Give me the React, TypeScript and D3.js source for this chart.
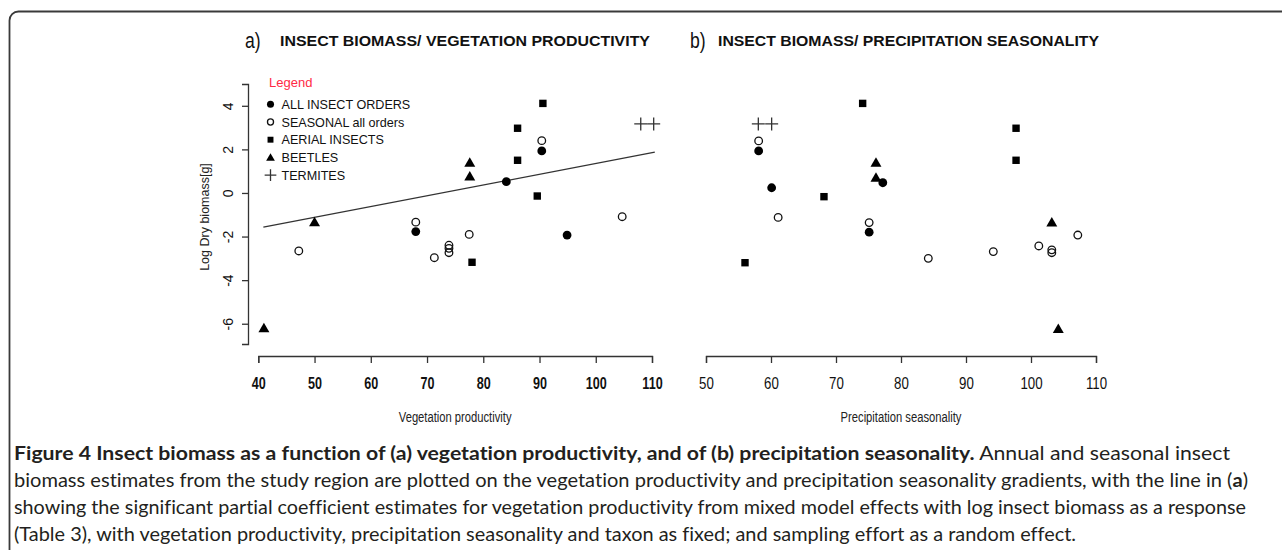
import React, { useEffect, useRef } from 'react'
import * as d3 from 'd3'

// tick values
const vegTicks = [40, 50, 60, 70, 80, 90, 100, 110]
const seasTicks = [50, 60, 70, 80, 90, 100, 110]
const yTicks = [-6, -4, -2, 0, 2, 4]

// panel a) vegetation productivity  [x, log dry biomass]
const allOrdersVeg = [[68, -1.77], [84.1, 0.52], [90.4, 1.93], [94.9, -1.93]]
const seasonalVeg = [[47.2, -2.66], [68, -1.34], [71.3, -2.97], [73.9, -2.4], [73.9, -2.54], [73.9, -2.74], [77.5, -1.9], [90.4, 2.4], [104.7, -1.09]]
const aerialVeg = [[78, -3.18], [86.1, 1.5], [86.1, 2.97], [89.6, -0.14], [90.6, 4.11]]
const beetlesVeg = [[41, -6.21], [50, -1.34], [77.6, 0.75], [77.6, 1.39]]
const termitesVeg = [[108, 3.17], [110.3, 3.17]]
const fitVeg = [[40.9, -1.57], [110.5, 1.87]]

// panel b) precipitation seasonality
const allOrdersSeas = [[58.1, 1.93], [60.1, 0.24], [75.1, -1.8], [77.2, 0.47]]
const seasonalSeas = [[58.1, 2.39], [61.1, -1.12], [75.1, -1.36], [84.2, -3.0], [94.2, -2.69], [101.2, -2.43], [103.2, -2.61], [103.2, -2.74], [107.2, -1.93]]
const aerialSeas = [[56, -3.2], [68.15, -0.17], [74.1, 4.11], [97.7, 2.97], [97.7, 1.5]]
const beetlesSeas = [[103.2, -1.36], [104.2, -6.24], [76.15, 1.39], [76.15, 0.7]]
const termitesSeas = [[58.05, 3.17], [60.1, 3.17]]

const legendLabels = ['ALL INSECT ORDERS', 'SEASONAL all orders', 'AERIAL INSECTS', 'BEETLES', 'TERMITES']
const legendKinds = ['filled', 'open', 'square', 'triangle', 'plus']

const arial = '"Liberation Sans", Arial, sans-serif'

// no narrow font installed, so squeeze the text horizontally
function condense(sel: any, k: number) {
  sel.each(function (this: SVGTextElement) {
    const len = this.getComputedTextLength()
    d3.select(this).attr('textLength', len * k).attr('lengthAdjust', 'spacingAndGlyphs')
  })
}

function drawMark(g: any, kind: string, x: number, y: number, s = 1) {
  if (kind === 'filled') {
    g.append('circle').attr('cx', x).attr('cy', y).attr('r', 4.4 * s).attr('fill', '#000')
  } else if (kind === 'open') {
    g.append('circle').attr('cx', x).attr('cy', y).attr('r', 3.8 * s)
      .attr('fill', 'none').attr('stroke', '#111').attr('stroke-width', 1.3)
  } else if (kind === 'square') {
    const h = 3.7 * s
    g.append('rect').attr('x', x - h).attr('y', y - h).attr('width', 2 * h).attr('height', 2 * h).attr('fill', '#000')
  } else if (kind === 'triangle') {
    g.append('path')
      .attr('transform', 'translate(' + x + ',' + (y + 0.8) + ')')
      .attr('d', d3.symbol(d3.symbolTriangle, 52 * s * s)())
      .attr('fill', '#000')
  } else {
    const h = 6.5 * s
    g.append('path')
      .attr('d', 'M' + (x - h) + ',' + y + 'H' + (x + h) + 'M' + x + ',' + (y - h) + 'V' + (y + h))
      .attr('stroke', '#333').attr('stroke-width', 1.3).attr('fill', 'none')
  }
}

const App = () => {
  const ref = useRef<SVGGElement>(null)

  useEffect(() => {
    const root = d3.select(ref.current)
    root.selectAll('*').remove()

    // shared y scale
    const y = d3.scaleLinear().domain([-6.93, 5.0]).range([344, 84])

    const yAxis = root.append('g')
      .attr('transform', 'translate(248,0)')
      .attr('color', '#333')
      .call(d3.axisLeft(y).tickValues(yTicks).tickSize(6).tickSizeOuter(6).tickFormat(d => String(d)))
    yAxis.select('.domain').attr('stroke-width', 1.3)
    yAxis.selectAll('.tick line').attr('stroke-width', 1.3)
    yAxis.selectAll('text')
      .attr('x', null).attr('dy', null)
      .attr('transform', 'translate(-15,0) rotate(-90)')
      .attr('text-anchor', 'middle')
      .attr('fill', '#111')
      .style('font-family', arial).style('font-size', '14px')

    root.append('text')
      .attr('transform', 'translate(209,217) rotate(-90)')
      .attr('text-anchor', 'middle')
      .style('font-family', arial).style('font-size', '12.5px')
      .attr('fill', '#222')
      .text('Log Dry biomass[g]')

    const panels = [
      {
        range: [258.3, 652], domain: [40, 110], ticks: vegTicks, bold: true,
        label: 'Vegetation productivity',
        tag: 'a)', tagX: 245, title: 'INSECT BIOMASS/ VEGETATION PRODUCTIVITY', titleX: 280, titleW: 370,
        series: [allOrdersVeg, seasonalVeg, aerialVeg, beetlesVeg, termitesVeg], fit: fitVeg
      },
      {
        range: [706, 1096], domain: [50, 110], ticks: seasTicks, bold: false,
        label: 'Precipitation seasonality',
        tag: 'b)', tagX: 690, title: 'INSECT BIOMASS/ PRECIPITATION SEASONALITY', titleX: 718, titleW: 381,
        series: [allOrdersSeas, seasonalSeas, aerialSeas, beetlesSeas, termitesSeas], fit: null
      }
    ]

    panels.forEach(p => {
      const x = d3.scaleLinear().domain(p.domain).range(p.range)

      const xAxis = root.append('g')
        .attr('transform', 'translate(0,356)')
        .attr('color', '#333')
        .call(d3.axisBottom(x).tickValues(p.ticks).tickSize(7).tickSizeOuter(7).tickPadding(14))
      xAxis.select('.domain').attr('stroke-width', 1.3)
      xAxis.selectAll('.tick line').attr('stroke-width', 1.3)
      const tl = xAxis.selectAll('text')
        .attr('fill', '#111')
        .style('font-family', arial).style('font-size', '17px')
        .style('font-weight', p.bold ? 'bold' : 'normal')
      condense(tl, p.bold ? 0.74 : 0.78)

      const lab = root.append('text')
        .attr('x', (p.range[0] + p.range[1]) / 2).attr('y', 422)
        .attr('text-anchor', 'middle')
        .style('font-family', arial).style('font-size', '14px')
        .attr('fill', '#222')
        .text(p.label)
      condense(lab, 0.8)

      // panel title
      const tag = root.append('text')
        .attr('x', p.tagX).attr('y', 48)
        .style('font-family', arial).style('font-size', '22px')
        .attr('fill', '#111')
        .text(p.tag)
      condense(tag, 0.8)
      root.append('text')
        .attr('x', p.titleX).attr('y', 46)
        .attr('textLength', p.titleW).attr('lengthAdjust', 'spacingAndGlyphs')
        .style('font-family', arial).style('font-size', '15.5px').style('font-weight', 'bold')
        .attr('fill', '#111')
        .text(p.title)

      if (p.fit) {
        root.append('path')
          .datum(p.fit)
          .attr('fill', 'none').attr('stroke', '#333').attr('stroke-width', 1.3)
          .attr('d', d3.line().x(d => x(d[0])).y(d => y(d[1])))
      }

      p.series.forEach((pts, i) => {
        pts.forEach(d => drawMark(root, legendKinds[i], x(d[0]), y(d[1])))
      })
    })

    // legend
    const lg = root.append('g')
    lg.append('text')
      .attr('x', 269).attr('y', 87)
      .style('font-family', arial).style('font-size', '13px')
      .attr('fill', '#ff2a45')
      .text('Legend')
    legendLabels.forEach((lab, i) => {
      const ly = 104.3 + i * 17.7
      drawMark(lg, legendKinds[i], 270.5, ly, legendKinds[i] === 'plus' ? 0.9 : 0.8)
      lg.append('text')
        .attr('x', 281.5).attr('y', ly + 4.6)
        .style('font-family', arial).style('font-size', '12.6px')
        .attr('fill', '#111')
        .text(lab)
    })
  }, [])

  const capFont = 'Lato, "Open Sans", sans-serif'
  return (
    <div>
      <style>{'body{margin:0}'}</style>
      <svg width={1282} height={550} style={{ display: 'block', background: '#fff' }}>
        <rect x={9.5} y={11.5} width={1300} height={560} rx={9} fill="#fff" stroke="#3a3a3a" strokeWidth={1.8} />
        <g ref={ref} />
        <g style={{ fontFamily: capFont, fontSize: '19px', fontVariantLigatures: 'none' }} fill="#231f20">
          <text x={14} y={459.5} textLength={1216} lengthAdjust="spacingAndGlyphs">
            <tspan fontWeight="bold">Figure 4 Insect biomass as a function of (a) vegetation productivity, and of (b) precipitation seasonality.</tspan>
            <tspan> Annual and seasonal insect</tspan>
          </text>
          <text x={14} y={486.5} textLength={1234} lengthAdjust="spacingAndGlyphs">
            biomass estimates from the study region are plotted on the vegetation productivity and precipitation seasonality gradients, with the line in (<tspan fontWeight="bold">a</tspan>)
          </text>
          <text x={14} y={513.5} textLength={1232} lengthAdjust="spacingAndGlyphs">
            showing the significant partial coefficient estimates for vegetation productivity from mixed model effects with log insect biomass as a response
          </text>
          <text x={14} y={541} textLength={1062} lengthAdjust="spacingAndGlyphs">
            (Table 3), with vegetation productivity, precipitation seasonality and taxon as fixed; and sampling effort as a random effect.
          </text>
        </g>
      </svg>
    </div>
  )
}

export default App
